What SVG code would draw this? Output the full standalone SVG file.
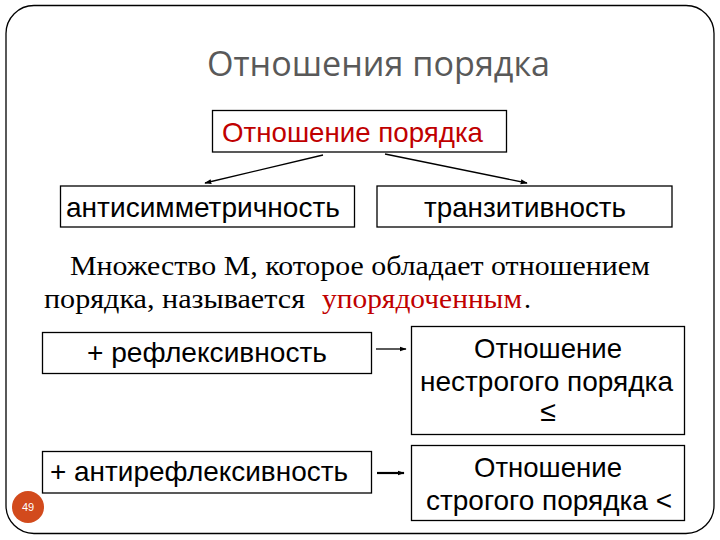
<svg xmlns="http://www.w3.org/2000/svg" width="720" height="540" viewBox="0 0 720 540">
<defs>
<style>
.box{fill:#fff;stroke:#000;stroke-width:1.3}
.t{font-family:"Liberation Sans",Arial,sans-serif;font-size:28.5px;fill:#000}
.s{font-family:"Liberation Serif","Times New Roman",serif;font-size:28px;fill:#000}
.c{stroke:#000;stroke-width:1.3;fill:none}
</style>
<marker id="ah" viewBox="0 0 10 10" refX="9" refY="5" markerWidth="7" markerHeight="7" orient="auto" markerUnits="userSpaceOnUse">
<path d="M0,1.5 L10,5 L0,8.5 z" fill="#000"/>
</marker>
</defs>
<rect x="0" y="0" width="720" height="540" fill="#fff"/>
<rect x="6" y="5.5" width="708" height="528" rx="28" ry="28" fill="none" stroke="#000" stroke-width="1.3"/>
<text x="207" y="76" font-family="'Open Sans',sans-serif" font-size="34" fill="#595959" textLength="343" lengthAdjust="spacingAndGlyphs">Отношения порядка</text>
<g id="root">
<rect class="box" x="212.5" y="110.5" width="294" height="41.5"/>
<text class="t" x="222" y="142" style="fill:#C00000" textLength="261" lengthAdjust="spacingAndGlyphs">Отношение порядка</text>
</g>
<g id="anti">
<rect class="box" x="60.5" y="186" width="294" height="41"/>
<text class="t" x="66" y="217" textLength="274" lengthAdjust="spacingAndGlyphs">антисимметричность</text>
</g>
<g id="trans">
<rect class="box" x="377" y="186" width="295" height="41"/>
<text class="t" x="424" y="217" textLength="202" lengthAdjust="spacingAndGlyphs">транзитивность</text>
</g>
<g id="para">
<text class="s" x="70" y="275" textLength="580" lengthAdjust="spacingAndGlyphs">Множество М, которое обладает отношением</text>
<text class="s" x="44" y="308" textLength="261" lengthAdjust="spacingAndGlyphs">порядка, называется</text>
<text class="s" x="322" y="308" style="fill:#C00000" textLength="200" lengthAdjust="spacingAndGlyphs">упорядоченным</text>
<text class="s" x="524" y="308">.</text>
</g>
<g id="refl">
<rect class="box" x="42.5" y="332.5" width="329" height="41"/>
<text class="t" x="87" y="362" textLength="240" lengthAdjust="spacingAndGlyphs">+ рефлексивность</text>
</g>
<g id="nonstrict">
<rect class="box" x="411.5" y="326.5" width="273" height="108"/>
<text class="t" x="474" y="358" textLength="148" lengthAdjust="spacingAndGlyphs">Отношение</text>
<text class="t" x="420" y="391" textLength="253" lengthAdjust="spacingAndGlyphs">нестрогого порядка</text>
<text class="t" x="548" y="421" text-anchor="middle">≤</text>
</g>
<g id="antirefl">
<rect class="box" x="42.5" y="451.5" width="329" height="41.5"/>
<text class="t" x="50" y="481" textLength="298" lengthAdjust="spacingAndGlyphs">+ антирефлексивность</text>
</g>
<g id="strict">
<rect class="box" x="411.5" y="445.5" width="273" height="75"/>
<text class="t" x="474" y="477" textLength="148" lengthAdjust="spacingAndGlyphs">Отношение</text>
<text class="t" x="426" y="510" textLength="246" lengthAdjust="spacingAndGlyphs">строгого порядка &lt;</text>
</g>
<g id="connectors">
<line class="c" x1="323" y1="155" x2="205" y2="183" marker-end="url(#ah)"/>
<line class="c" x1="385" y1="154" x2="527" y2="183" marker-end="url(#ah)"/>
<line class="c" x1="376" y1="349" x2="406" y2="349" marker-end="url(#ah)"/>
<line x1="377" y1="473" x2="404" y2="473" stroke="#000" stroke-width="2.2" marker-end="url(#ah)"/>
</g>
<g id="page">
<circle cx="28" cy="507" r="16" fill="#D24A1C"/>
<text x="28" y="511" text-anchor="middle" font-family="'Liberation Sans',Arial,sans-serif" font-size="11" fill="#fff">49</text>
</g>
</svg>
